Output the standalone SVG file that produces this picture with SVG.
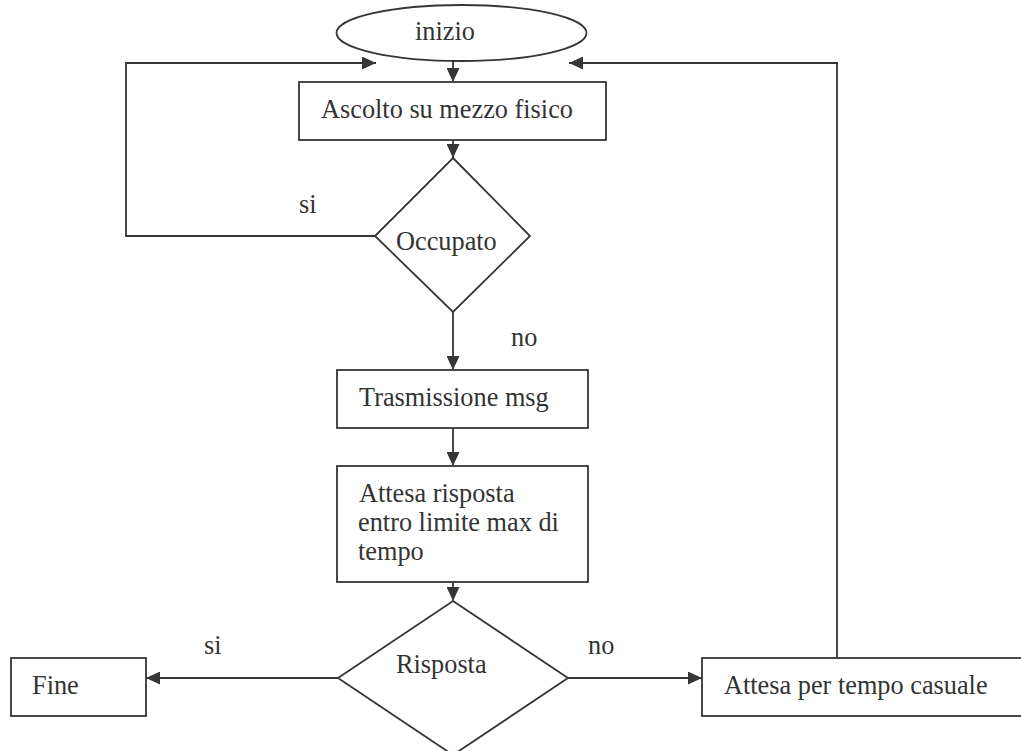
<svg xmlns="http://www.w3.org/2000/svg" width="1021" height="751" viewBox="0 0 1021 751">
  <defs>
    <style>
      .shape { fill: #ffffff; stroke: #363636; stroke-width: 1.8; }
      .link { fill: none; stroke: #363636; stroke-width: 1.8; }
      .label { font-family: "Liberation Serif", "Times New Roman", serif; font-size: 26.3px; fill: #333333; }
    </style>
    <marker id="arrow" markerUnits="userSpaceOnUse" markerWidth="15" markerHeight="13" refX="14" refY="6.5" orient="auto">
      <path d="M0,0 L14,6.5 L0,13 z" fill="#363636"/>
    </marker>
  </defs>
  <rect width="1021" height="751" fill="#ffffff"/>

  <!-- connectors -->
  <g id="connectors">
    <path class="link" d="M453,61 V82" marker-end="url(#arrow)"/>
    <path class="link" d="M453,140 V158" marker-end="url(#arrow)"/>
    <path class="link" d="M375,236 H126 V63 H376" marker-end="url(#arrow)"/>
    <path class="link" d="M453,312 V370" marker-end="url(#arrow)"/>
    <path class="link" d="M453,428 V466" marker-end="url(#arrow)"/>
    <path class="link" d="M453,582 V601" marker-end="url(#arrow)"/>
    <path class="link" d="M338,678 H146" marker-end="url(#arrow)"/>
    <path class="link" d="M568,678 H702" marker-end="url(#arrow)"/>
    <path class="link" d="M837,658 V63 H569" marker-end="url(#arrow)"/>
    <text class="label" x="299" y="213">si</text>
    <text class="label" x="511" y="346">no</text>
    <text class="label" x="204" y="654">si</text>
    <text class="label" x="588" y="654">no</text>
  </g>

  <!-- start -->
  <g id="inizio">
    <ellipse class="shape" cx="461.5" cy="33" rx="125" ry="28"/>
    <text class="label" x="415" y="40">inizio</text>
  </g>

  <g id="ascolto">
    <rect class="shape" x="299" y="82" width="307" height="58"/>
    <text class="label" x="321" y="118">Ascolto su mezzo fisico</text>
  </g>

  <g id="occupato">
    <polygon class="shape" points="453,158 530,236 453,312 375,236"/>
    <text class="label" x="396" y="250">Occupato</text>
  </g>

  <g id="trasmissione">
    <rect class="shape" x="337" y="370" width="251" height="58"/>
    <text class="label" x="359" y="406">Trasmissione msg</text>
  </g>

  <g id="attesa-risposta">
    <rect class="shape" x="337" y="466" width="251" height="116"/>
    <text class="label" x="359" y="502">Attesa risposta</text>
    <text class="label" x="358" y="531">entro limite max di</text>
    <text class="label" x="358" y="560">tempo</text>
  </g>

  <g id="risposta">
    <polygon class="shape" points="453,601 568,678 453,755 338,678"/>
    <text class="label" x="396" y="673">Risposta</text>
  </g>

  <g id="fine">
    <rect class="shape" x="11" y="658" width="135" height="58"/>
    <text class="label" x="32" y="694">Fine</text>
  </g>

  <g id="attesa-casuale">
    <rect class="shape" x="702" y="658" width="340" height="58"/>
    <text class="label" x="724" y="694">Attesa per tempo casuale</text>
  </g>
</svg>
